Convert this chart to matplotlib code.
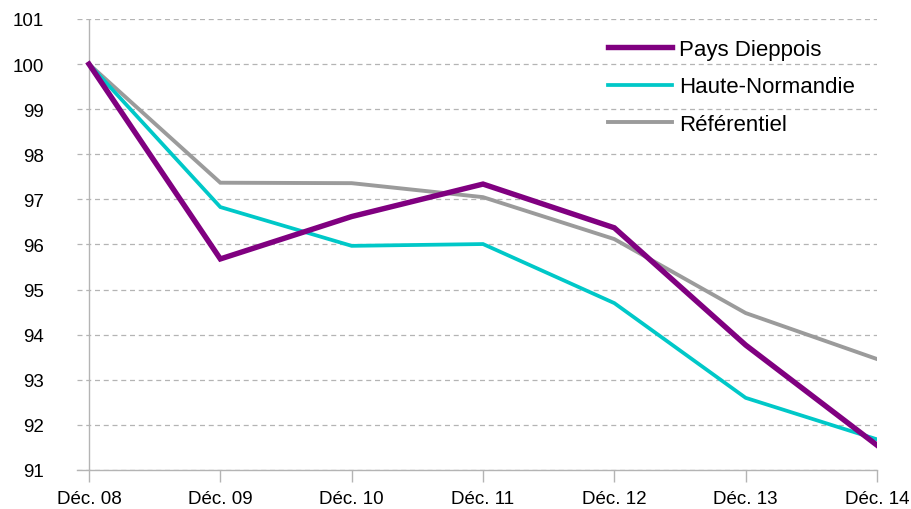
import matplotlib
matplotlib.use("Agg")
import matplotlib.pyplot as plt

categories = ["Déc. 08", "Déc. 09", "Déc. 10", "Déc. 11", "Déc. 12", "Déc. 13", "Déc. 14"]
pays_dieppois = [100.0, 95.68, 96.62, 97.34, 96.37, 93.77, 91.55]
haute_normandie = [100.0, 96.83, 95.97, 96.01, 94.70, 92.60, 91.68]
referentiel = [100.0, 97.37, 97.36, 97.05, 96.12, 94.48, 93.46]
yticks = [91, 92, 93, 94, 95, 96, 97, 98, 99, 100, 101]

plt.rcParams['font.family'] = ['Liberation Sans', 'DejaVu Sans']

fig = plt.figure(figsize=(9.12, 5.10), dpi=100)
ax = fig.add_axes([77/912, 1-471/510, (877-77)/912, (471-20)/510])

x = list(range(len(categories)))
ax.plot(x, referentiel, color="#9b9b9b", lw=2.8, label="Référentiel", zorder=3, solid_joinstyle='miter')
ax.plot(x, haute_normandie, color="#00c8c8", lw=2.7, label="Haute-Normandie", zorder=4, solid_joinstyle='miter')
ax.plot(x, pays_dieppois, color="#800080", lw=3.9, label="Pays Dieppois", zorder=5, solid_joinstyle='miter')

ax.set_xlim(-12/131.33, 6)
ax.set_ylim(91, 101)
ax.set_yticks(yticks)
ax.set_xticks(x)
ax.set_xticklabels(categories)
ax.yaxis.grid(True, linestyle=(0, (4, 3)), color="#b4b4b4", lw=0.9)
ax.set_axisbelow(True)
for s in ["top", "right", "left"]:
    ax.spines[s].set_visible(False)
ax.spines["bottom"].set_color("#b4b4b4")
ax.spines["bottom"].set_linewidth(1.0)
ax.axvline(0, color="#b4b4b4", lw=1.0, zorder=1)
ax.tick_params(axis="y", length=0, pad=24, labelsize=13.5, colors="#000000")
ax.tick_params(axis="x", length=8.5, width=1.0, color="#b4b4b4", direction="out", pad=6, labelsize=13.5)

handles, labels = ax.get_legend_handles_labels()
order = [2, 1, 0]
leg = fig.legend([handles[i] for i in order], [labels[i] for i in order],
                 loc="upper left", bbox_to_anchor=(608/912, 1-40/510),
                 frameon=False, fontsize=16, handlelength=2.9, handletextpad=0.3,
                 labelspacing=0.74, borderpad=0, borderaxespad=0)

fig.savefig("out.png", dpi=100)
